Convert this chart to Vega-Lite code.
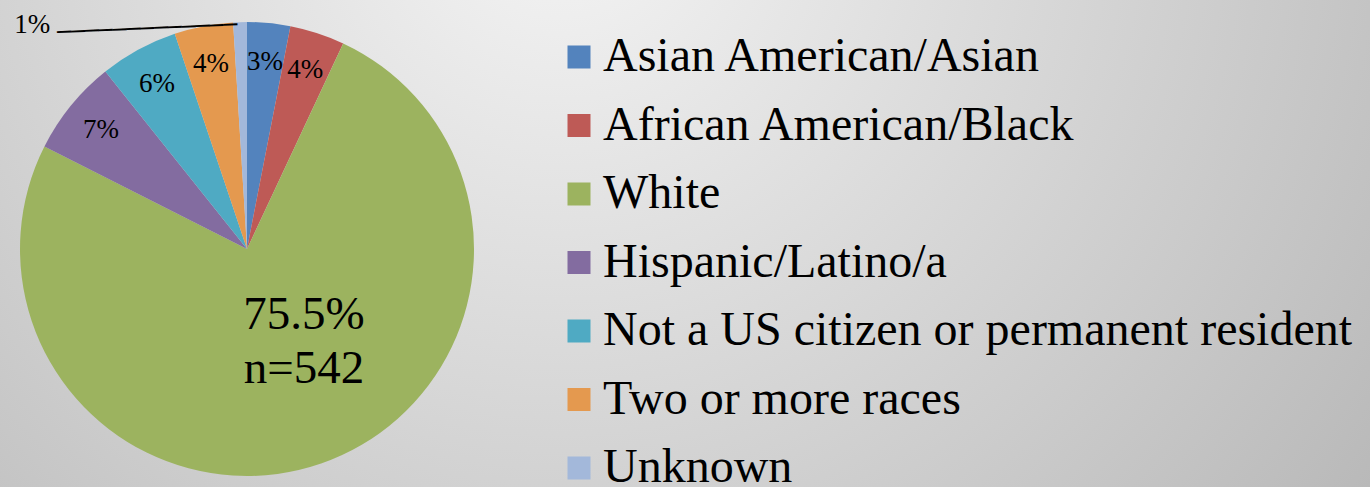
{
  "$schema": "https://vega.github.io/schema/vega-lite/v6.json",
  "padding": 0,
  "spacing": 0,
  "background": "#d2d2d2",
  "config": {"view": {"stroke": null}},
  "data": {
    "values": [
      {"idx": 1, "group": "Asian American/Asian", "count": 22, "label": "3%"},
      {"idx": 2, "group": "African American/Black", "count": 28, "label": "4%"},
      {"idx": 3, "group": "White", "count": 542, "label": "75.5%\nn=542"},
      {"idx": 4, "group": "Hispanic/Latino/a", "count": 49, "label": "7%"},
      {"idx": 5, "group": "Not a US citizen or permanent resident", "count": 40, "label": "6%"},
      {"idx": 6, "group": "Two or more races", "count": 30, "label": "4%"},
      {"idx": 7, "group": "Unknown", "count": 7, "label": "1%"}
    ]
  },
  "resolve": {"scale": {"color": "shared"}, "legend": {"color": "shared"}},
  "hconcat": [
    {
      "width": 494,
      "height": 498,
      "view": {
        "stroke": null,
        "fill": {"gradient": "radial", "x1": 1.1285, "y1": -0.2008, "r1": 0, "x2": 1.1285, "y2": -0.2008, "r2": 2.008,
          "stops": [{"offset": 0, "color": "#f5f5f5"}, {"offset": 1, "color": "#b9b9b9"}]}
      },
      "encoding": {
        "theta": {"field": "count", "type": "quantitative", "stack": true},
        "order": {"field": "idx", "type": "quantitative"}
      },
      "layer": [
        {
          "mark": {"type": "arc", "outerRadius": 227},
          "encoding": {
            "color": {
              "field": "group", "type": "nominal",
              "scale": {
                "domain": ["Asian American/Asian", "African American/Black", "White", "Hispanic/Latino/a", "Not a US citizen or permanent resident", "Two or more races", "Unknown"],
                "range": ["#5383BD", "#BE5A56", "#9CB35F", "#836CA0", "#4FAAC3", "#E4994F", "#A3B8DA"]
              },
              "legend": {
                "orient": "none", "legendX": 555, "legendY": 33, "padding": 0, "title": null,
                "symbolType": "square", "symbolSize": 529, "symbolStrokeWidth": 0, "symbolOpacity": 1,
                "labelFont": "Liberation Serif", "labelFontSize": 48, "labelColor": "black",
                "labelLimit": 2000, "labelOffset": 0, "rowPadding": 20.5
              }
            }
          }
        },
        {
          "mark": {"type": "text", "clip": true, "radius": 188, "font": "Liberation Serif", "fontSize": 27, "color": "black", "align": "center", "baseline": "middle"},
          "encoding": {
            "text": {"condition": {"test": "datum.group !== 'White' && datum.group !== 'Unknown'", "field": "label", "type": "nominal"}, "value": ""}
          }
        },
        {
          "mark": {"type": "text", "clip": true, "radius": 98, "dx": 25, "dy": -27, "font": "Liberation Serif", "fontSize": 47, "lineHeight": 54, "lineBreak": "\n", "color": "black", "align": "center", "baseline": "middle"},
          "encoding": {
            "text": {"condition": {"test": "datum.group === 'White'", "field": "label", "type": "nominal"}, "value": ""}
          }
        },
        {
          "mark": {"type": "text", "clip": true, "radius": 224, "dx": -208, "font": "Liberation Serif", "fontSize": 27, "color": "black", "align": "center", "baseline": "middle"},
          "encoding": {
            "text": {"condition": {"test": "datum.group === 'Unknown'", "field": "label", "type": "nominal"}, "value": ""}
          }
        },
        {
          "mark": {"type": "text", "clip": true, "radius": 224, "dx": -93, "angle": -2.5, "font": "DejaVu Sans Mono", "fontSize": 23, "color": "black", "align": "center", "baseline": "middle"},
          "encoding": {
            "text": {"condition": {"test": "datum.group === 'Unknown'", "value": "─────────────"}, "value": ""}
          }
        }
      ]
    },
    {
      "width": 876,
      "height": 498,
      "view": {
        "stroke": null,
        "fill": {"gradient": "radial", "x1": 0.07534, "y1": 0.1016, "r1": 0, "x2": 0.07534, "y2": 0.1016, "r2": 1.14155,
          "stops": [{"offset": 0, "color": "#f5f5f5"}, {"offset": 1, "color": "#b9b9b9"}]}
      },
      "mark": {"type": "text"},
      "encoding": {"text": {"value": ""}}
    }
  ]
}
